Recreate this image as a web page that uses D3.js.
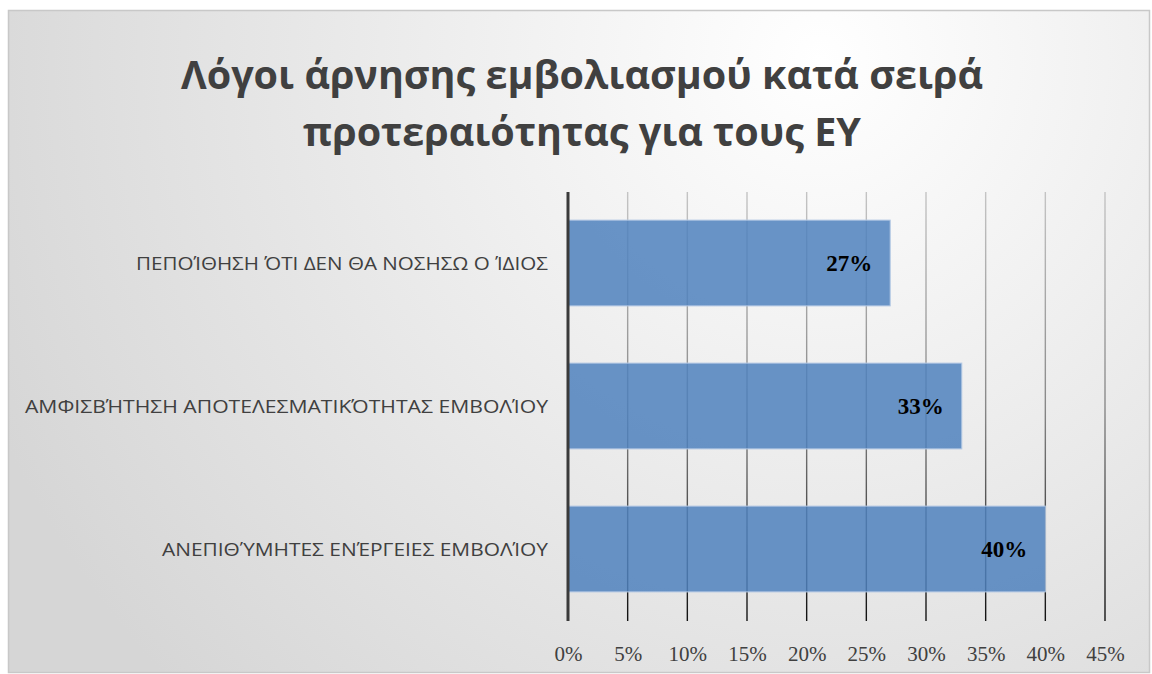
<!DOCTYPE html>
<html><head><meta charset="utf-8">
<script src="https://cdn.jsdelivr.net/npm/d3@7"></script>
<style>html,body{margin:0;padding:0;background:#fff;}svg{display:block;}</style>
</head><body>
<script>
const titleLines = ["Λόγοι άρνησης εμβολιασμού κατά σειρά", "προτεραιότητας για τους ΕΥ"];
const categories = ["ΠΕΠΟΊΘΗΣΗ ΌΤΙ ΔΕΝ ΘΑ ΝΟΣΗΣΩ Ο ΊΔΙΟΣ", "ΑΜΦΙΣΒΉΤΗΣΗ ΑΠΟΤΕΛΕΣΜΑΤΙΚΌΤΗΤΑΣ ΕΜΒΟΛΊΟΥ", "ΑΝΕΠΙΘΎΜΗΤΕΣ ΕΝΈΡΓΕΙΕΣ ΕΜΒΟΛΊΟΥ"];
const values = [0.27, 0.33, 0.40];
const xTicks = [0, 0.05, 0.10, 0.15, 0.20, 0.25, 0.30, 0.35, 0.40, 0.45];

const W = 1152, H = 674;
const svg = d3.select("body").append("svg").attr("width", W).attr("height", H);
const defs = svg.append("defs");
const bg = defs.append("radialGradient").attr("id", "bg")
  .attr("gradientUnits", "userSpaceOnUse").attr("cx", 820).attr("cy", 60).attr("r", 900);
bg.append("stop").attr("offset", "0").attr("stop-color", "#ffffff");
bg.append("stop").attr("offset", "1").attr("stop-color", "#d6d6d6");

svg.append("rect").attr("x", 8.5).attr("y", 10.5).attr("width", 1141).attr("height", 662)
  .attr("fill", "url(#bg)").attr("stroke", "#c8c8c8").attr("stroke-width", 1.5);

const x = d3.scaleLinear().domain([0, 0.45]).range([568, 1105]);
const y = d3.scaleBand().domain(categories).range([191.5, 620.5]).paddingInner(0.4).paddingOuter(0.2);

const gg = defs.append("linearGradient").attr("id", "grid")
  .attr("gradientUnits", "userSpaceOnUse").attr("x1", 0).attr("y1", 192).attr("x2", 0).attr("y2", 621);
gg.append("stop").attr("offset", "0").attr("stop-color", "#c4c4c4");
gg.append("stop").attr("offset", "0.5").attr("stop-color", "#888");
gg.append("stop").attr("offset", "1").attr("stop-color", "#111");

// title
svg.append("g").selectAll("text").data(titleLines).join("text")
  .attr("x", 582).attr("y", (d, i) => 89 + i * 57)
  .attr("text-anchor", "middle")
  .attr("font-family", "'Open Sans', sans-serif").attr("font-weight", "bold")
  .attr("font-size", 39.5).attr("fill", "#404040").text(d => d);

// gridlines
svg.append("g").selectAll("line").data(xTicks.slice(1)).join("line")
  .attr("x1", d => x(d)).attr("x2", d => x(d)).attr("y1", 192).attr("y2", 621)
  .attr("stroke", "url(#grid)").attr("stroke-width", 1.4);

// bars
svg.append("g").selectAll("rect").data(values).join("rect")
  .attr("x", x(0)).attr("y", (d, i) => y(categories[i]))
  .attr("width", d => x(d) - x(0)).attr("height", y.bandwidth())
  .attr("fill", "#4f81bd").attr("fill-opacity", 0.85)
  .attr("stroke", "#b4c9e4").attr("stroke-width", 1);

// axis line
svg.append("line").attr("x1", x(0)).attr("x2", x(0)).attr("y1", 192).attr("y2", 621)
  .attr("stroke", "#3a3a3a").attr("stroke-width", 3);

// x tick labels
const xAxis = d3.axisBottom(x).tickValues(xTicks).tickFormat(d3.format(".0%")).tickSize(0).tickPadding(0);
const ax = svg.append("g").attr("transform", "translate(0,661)").call(xAxis);
ax.select(".domain").remove();
ax.selectAll("text").attr("font-family", "'Liberation Serif', serif").attr("font-size", 21)
  .attr("fill", "#404040").attr("dy", 0).attr("y", 0);

// category labels
const labels = svg.append("g").selectAll("text").data(categories).join("text")
  .attr("x", 548).attr("y", d => y(d) + y.bandwidth() / 2 + 7)
  .attr("text-anchor", "end")
  .attr("font-family", "'Open Sans', sans-serif").attr("font-size", 19)
  .attr("fill", "#404040").text(d => d);
const targetW = [412, 523, 386];
labels.attr("textLength", (d, i) => targetW[i]).attr("lengthAdjust", "spacingAndGlyphs");

// data labels
svg.append("g").selectAll("text").data(values).join("text")
  .attr("x", d => x(d) - 18).attr("y", (d, i) => y(categories[i]) + y.bandwidth() / 2 + 8)
  .attr("text-anchor", "end")
  .attr("font-family", "'Liberation Serif', serif").attr("font-weight", "bold")
  .attr("font-size", 23).attr("fill", "#000").text(d => d3.format(".0%")(d));
</script>
</body></html>
